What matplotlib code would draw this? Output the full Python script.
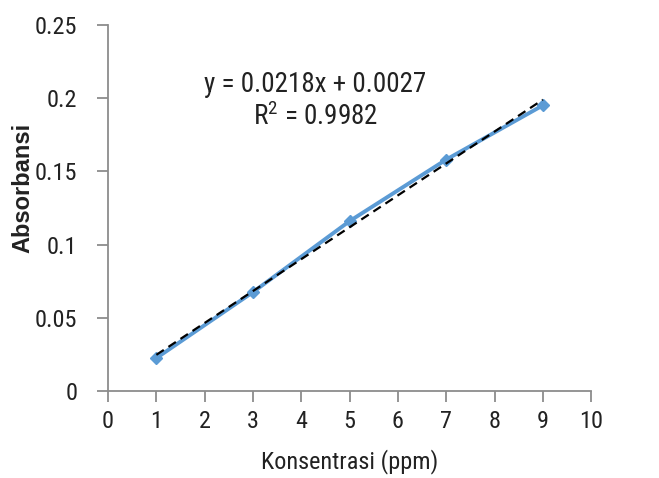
import numpy as np
import matplotlib.pyplot as plt

plt.rcParams['font.family'] = ['Roboto Condensed', 'Roboto', 'DejaVu Sans']

konsentrasi = [1, 3, 5, 7, 9]
absorbansi = [0.0225, 0.0675, 0.116, 0.158, 0.195]
x_ticks = [0, 1, 2, 3, 4, 5, 6, 7, 8, 9, 10]
y_ticks = [0, 0.05, 0.1, 0.15, 0.2, 0.25]
y_tick_labels = ['0', '0.05', '0.1', '0.15', '0.2', '0.25']
equation = 'y = 0.0218x + 0.0027'
r_squared = '$\\mathregular{R^2}$ = 0.9982'

fig = plt.figure(figsize=(6.59, 4.78), dpi=100)
ax = fig.add_axes([0.164, 0.182, 0.733, 0.766])

ax.plot(konsentrasi, absorbansi, color='#5B9BD5', linewidth=2.8,
        marker='D', markersize=6.5, zorder=2)

# linear trendline
slope, intercept = np.polyfit(konsentrasi, absorbansi, 1)
xs = np.array([konsentrasi[0], konsentrasi[-1]])
ax.plot(xs, slope * xs + intercept, color='black', linestyle=(0, (4, 2.5)),
        linewidth=1.6, zorder=3)

ax.text(4.29, 0.209, equation, ha='center', va='center', fontsize=19.5, color='#222222')
ax.text(4.29, 0.187, r_squared, ha='center', va='center', fontsize=19.5, color='#222222')

ax.set_xlim(0, 10)
ax.set_ylim(0, 0.25)
ax.set_xticks(x_ticks)
ax.set_yticks(y_ticks)
ax.set_yticklabels(y_tick_labels)

for side in ['top', 'right']:
    ax.spines[side].set_visible(False)
for side in ['left', 'bottom']:
    ax.spines[side].set_color('#8c8c8c')
    ax.spines[side].set_linewidth(1.3)
ax.tick_params(axis='both', colors='#8c8c8c', length=8, width=1.3,
               labelsize=17.5, labelcolor='#222222')
ax.tick_params(axis='y', pad=14)
ax.tick_params(axis='x', pad=6)

ax.set_xlabel('Konsentrasi (ppm)', fontsize=17.5, color='#222222', labelpad=11)
ax.set_ylabel('Absorbansi', fontsize=17, fontweight='bold',
              family=['Liberation Sans', 'DejaVu Sans'], color='#222222')
ax.yaxis.set_label_coords(-0.153, 0.555)

fig.savefig('out.png', dpi=100)
